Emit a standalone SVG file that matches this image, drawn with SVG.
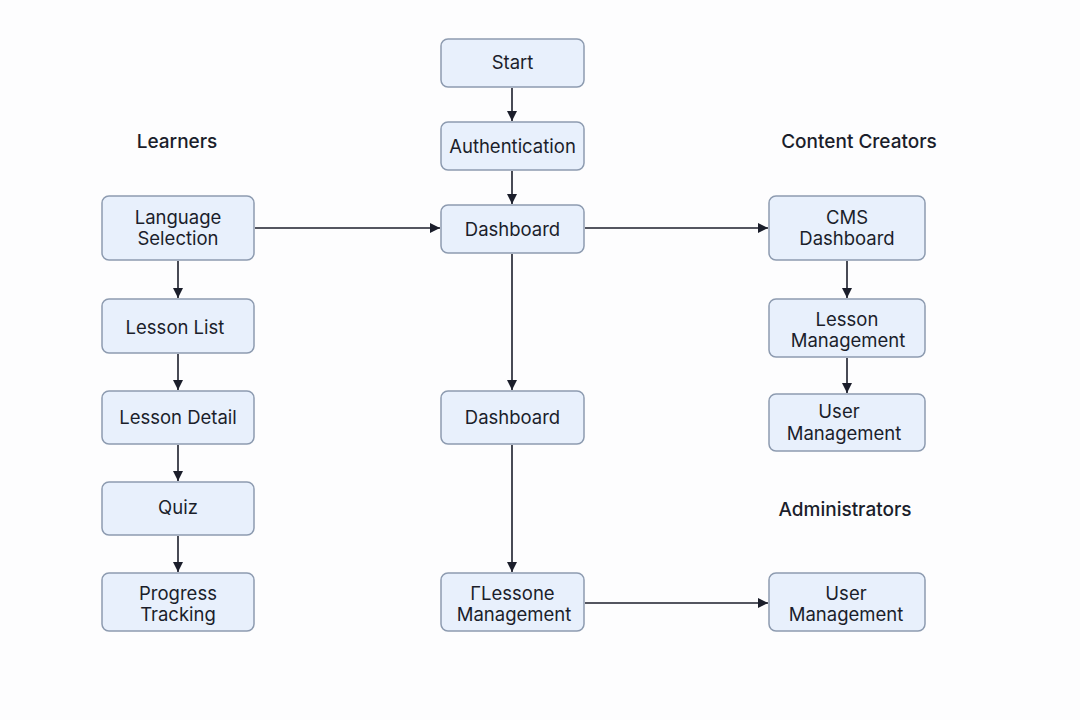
<svg xmlns="http://www.w3.org/2000/svg" width="1080" height="720" viewBox="0 0 1080 720">
<defs>
<style>
.n rect{fill:#e8f0fc;stroke:#8d9bb0;stroke-width:1.5}
.n text,.lbl{font-family:Inter,"Liberation Sans",sans-serif;font-size:18.5px;fill:#1b1e2b;text-anchor:middle}
.lbl{font-size:19px;font-weight:500}
.c line{stroke:#1b1e2b;stroke-width:1.6;marker-end:url(#ah)}
</style>
<marker id="ah" viewBox="0 0 10 10" refX="10" refY="5" markerWidth="11" markerHeight="10" markerUnits="userSpaceOnUse" orient="auto"><path d="M0,0L10,5L0,10z" fill="#1b1e2b"/></marker>
</defs>
<rect width="1080" height="720" fill="#fdfdfe"/>
<text class="lbl" x="177" y="148">Learners</text>
<text class="lbl" x="859" y="148">Content Creators</text>
<text class="lbl" x="845" y="516">Administrators</text>
<g class="c">
<line x1="512" y1="88" x2="512" y2="121"/>
<line x1="512" y1="171" x2="512" y2="204"/>
<line x1="255" y1="228" x2="440" y2="228"/>
<line x1="585" y1="228" x2="768" y2="228"/>
<line x1="512" y1="254" x2="512" y2="390"/>
<line x1="512" y1="445" x2="512" y2="572"/>
<line x1="585" y1="603" x2="768" y2="603"/>
<line x1="178" y1="261" x2="178" y2="298"/>
<line x1="178" y1="354" x2="178" y2="390"/>
<line x1="178" y1="445" x2="178" y2="481"/>
<line x1="178" y1="536" x2="178" y2="572"/>
<line x1="847" y1="261" x2="847" y2="298"/>
<line x1="847" y1="358" x2="847" y2="393"/>
</g>
<g id="start" class="n"><rect x="441" y="39" width="143" height="48" rx="7"/><text x="512.5" y="69">Start</text></g>
<g id="auth" class="n"><rect x="441" y="122" width="143" height="48" rx="7"/><text x="512.5" y="153">Authentication</text></g>
<g id="dash1" class="n"><rect x="441" y="205" width="143" height="48" rx="7"/><text x="512.5" y="236">Dashboard</text></g>
<g id="dash2" class="n"><rect x="441" y="391" width="143" height="53" rx="7"/><text x="512.5" y="424">Dashboard</text></g>
<g id="lessoneMgmt" class="n"><rect x="441" y="573" width="143" height="58" rx="7"/><text x="512.5" y="600">ΓLessone</text><text x="514" y="621">Management</text></g>
<g id="langSel" class="n"><rect x="102" y="196" width="152" height="64" rx="7"/><text x="178" y="224">Language</text><text x="178" y="245">Selection</text></g>
<g id="lessonList" class="n"><rect x="102" y="299" width="152" height="54" rx="7"/><text x="175" y="334">Lesson List</text></g>
<g id="lessonDetail" class="n"><rect x="102" y="391" width="152" height="53" rx="7"/><text x="178" y="424">Lesson Detail</text></g>
<g id="quiz" class="n"><rect x="102" y="482" width="152" height="53" rx="7"/><text x="178" y="514">Quiz</text></g>
<g id="progress" class="n"><rect x="102" y="573" width="152" height="58" rx="7"/><text x="178" y="600">Progress</text><text x="178" y="621">Tracking</text></g>
<g id="cmsDash" class="n"><rect x="769" y="196" width="156" height="64" rx="7"/><text x="847" y="224">CMS</text><text x="847" y="245">Dashboard</text></g>
<g id="lessonMgmt" class="n"><rect x="769" y="299" width="156" height="58" rx="7"/><text x="847" y="326">Lesson</text><text x="848" y="347">Management</text></g>
<g id="userMgmt1" class="n"><rect x="769" y="394" width="156" height="57" rx="7"/><text x="839" y="418">User</text><text x="844" y="440">Management</text></g>
<g id="userMgmt2" class="n"><rect x="769" y="573" width="156" height="58" rx="7"/><text x="846" y="600">User</text><text x="846" y="621">Management</text></g>
</svg>
